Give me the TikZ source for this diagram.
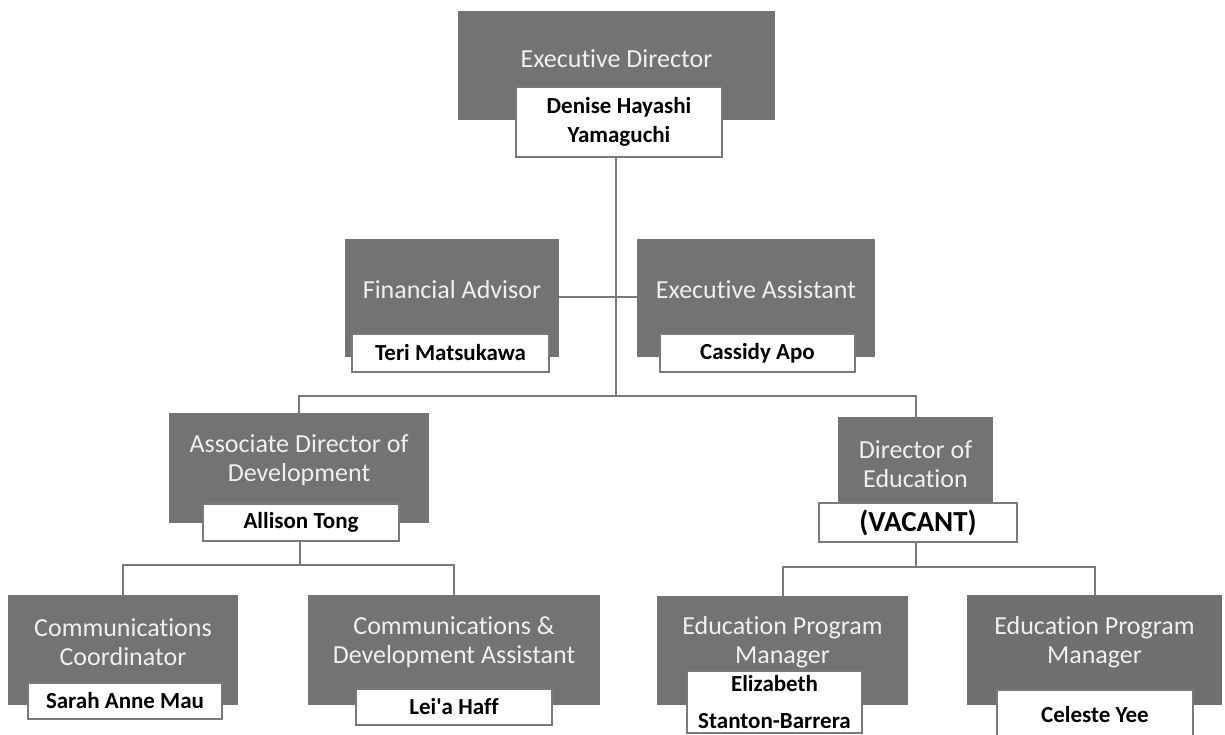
\documentclass[tikz,border=0pt]{standalone}
\usepackage{fontspec}
\setmainfont{Carlito}[Ligatures=NoCommon]
\usetikzlibrary{calc}
\definecolor{boxgrey}{HTML}{737373}
\definecolor{boxgreyb}{HTML}{6F6F6F}
\definecolor{linegrey}{HTML}{7A7A7A}
\tikzset{
  role/.style={rectangle, fill=boxgrey, inner sep=0pt},
  roletext/.style={text=white!94!black, font=\fontsize{26}{29}\selectfont, align=center, inner sep=0pt},
  person/.style={rectangle, draw=linegrey, line width=1.5pt, fill=white, inner sep=0pt,
    font=\fontsize{23}{29}\selectfont\bfseries, align=center},
  link/.style={draw=linegrey, line width=2pt}
}

\begin{document}
\begin{tikzpicture}[x=1pt,y=-1pt]
\useasboundingbox (0,0) rectangle (1225,734);

% grey boxes
\node[role, minimum width=317pt, minimum height=109pt] (ed) at (616.5,65.5) {};
\node[role, minimum width=214pt, minimum height=118pt] (fa) at (452,298) {};
\node[role, minimum width=238pt, minimum height=118pt] (ea) at (756,298) {};
\node[role, minimum width=260pt, minimum height=110pt] (add) at (299,468) {};
\node[role, minimum width=155pt, minimum height=86pt] (de) at (915.5,460) {};
\node[role, minimum width=230pt, minimum height=110pt] (cc) at (123,650) {};
\node[role, minimum width=292pt, minimum height=110pt] (cda) at (454,650) {};
\node[role, minimum width=251pt, minimum height=109pt] (epma) at (782.5,650.5) {};
\node[role, fill=boxgreyb, minimum width=255pt, minimum height=110pt] (epmb) at (1094.5,650) {};

% titles
\node[roletext] (ed-t) at (616.5,59) {Executive Director};
\node[roletext] (fa-t) at (452,290) {Financial Advisor};
\node[roletext] (ea-t) at (756,290) {Executive Assistant};
\node[roletext] (add-t) at (299,460) {Associate Director of\\Development};
\node[roletext] (de-t) at (915.5,464) {Director of\\Education};
\node[roletext] (cc-t) at (123,642) {Communications\\Coordinator};
\node[roletext] (cda-t) at (454,642) {Communications \&\\Development Assistant};
\node[roletext] (epma-t) at (782.5,642) {Education Program\\Manager};
\node[roletext] (epmb-t) at (1094.5,642) {Education Program\\Manager};

% names
\node[person, minimum width=206pt, minimum height=70pt] (edn) at (619,122) {Denise Hayashi\\Yamaguchi};
\node[person, minimum width=197pt, minimum height=38pt] (fan) at (450.5,353) {Teri Matsukawa};
\node[person, minimum width=195pt, minimum height=38pt] (ean) at (757.5,353) {Cassidy Apo};
\node[person, minimum width=196pt, minimum height=37pt] (addn) at (301,522.5) {Allison Tong};
\node[person, minimum width=198pt, minimum height=39pt, font=\fontsize{29}{29}\selectfont\bfseries] (den) at (918,522.5) {(VACANT)};
\node[person, minimum width=194pt, minimum height=36pt] (ccn) at (125,701) {Sarah Anne Mau};
\node[person, minimum width=196pt, minimum height=36pt] (cdan) at (454,707) {Lei\textquotesingle a Haff};
\node[person, minimum width=175pt, minimum height=62pt, font=\fontsize{23}{37}\selectfont\bfseries] (epman) at (774.5,702) {Elizabeth\\Stanton-Barrera};
\node[person, minimum width=196pt, minimum height=50pt] (epmbn) at (1095,715) {Celeste Yee};

% connectors
\coordinate (j1) at (616,396);
\coordinate (j2) at (300,565);
\coordinate (j3) at (916,567);
\draw[link] (j1 |- edn.south) -- (j1);
\draw[link] (j1) -| (add.north);
\draw[link] (j1) -| (de.north);
\draw[link] (fa.east |- 0,297) -- (ea.west |- 0,297);
\draw[link] (j2 |- addn.south) -- (j2);
\draw[link] (j2) -| (cc.north);
\draw[link] (j2) -| (cda.north);
\draw[link] (j3 |- den.south) -- (j3);
\draw[link] (j3) -| (epma.north);
\draw[link] (j3) -| (epmb.north);
\end{tikzpicture}
\end{document}
